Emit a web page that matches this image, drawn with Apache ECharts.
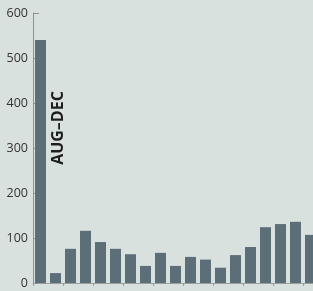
<!DOCTYPE html>
<html><head><meta charset="utf-8">
<script src="https://cdn.jsdelivr.net/npm/echarts@6/dist/echarts.min.js"></script>
<style>html,body{margin:0;padding:0;background:#d9e1de;}#c{width:313px;height:291px;}</style>
</head><body><div id="c"></div>
<script>
const categories = ['1','2','3','4','5','6','7','8','9','10','11','12','13','14','15','16','17','18','19'];
const values = [540, 22, 76, 116, 91, 76, 64, 38, 67, 38, 58, 52, 34, 62, 80, 124, 131, 136, 107];
const yTicks = [0, 100, 200, 300, 400, 500, 600];
const annotation = 'AUG–DEC';

const chart = echarts.init(document.getElementById('c'));
chart.setOption({
  backgroundColor: '#d9e1de',
  animation: false,
  grid: { left: 33, top: 13, width: 285, height: 270, outerBoundsMode: 'none', containLabel: false },
  xAxis: {
    type: 'category', data: categories,
    axisLine: { lineStyle: { color: '#9a9e9c', width: 1 } },
    axisTick: { show: true, length: 3, lineStyle: { color: '#9a9e9c' } },
    axisLabel: { show: false }
  },
  yAxis: {
    type: 'value', min: 0, max: 600, interval: 100,
    splitLine: { show: false },
    axisLine: { show: true, lineStyle: { color: '#8e9290', width: 1 } },
    axisTick: { show: true, inside: true, length: 6, lineStyle: { color: '#8e9290' } },
    axisLabel: { color: '#333', fontSize: 12.5, fontFamily: 'Open Sans', margin: 5,
      formatter: v => yTicks.includes(v) ? String(v) : '' }
  },
  series: [{
    type: 'bar', data: values, barWidth: 11,
    itemStyle: { color: '#5c6e78' }
  }],
  graphic: [{
    type: 'text', x: 58.5, y: 128, rotation: Math.PI / 2,
    style: { text: annotation, fill: '#1e1e1e', font: 'bold 16px "Open Sans"', align: 'center', verticalAlign: 'middle' }
  }]
});
</script></body></html>
